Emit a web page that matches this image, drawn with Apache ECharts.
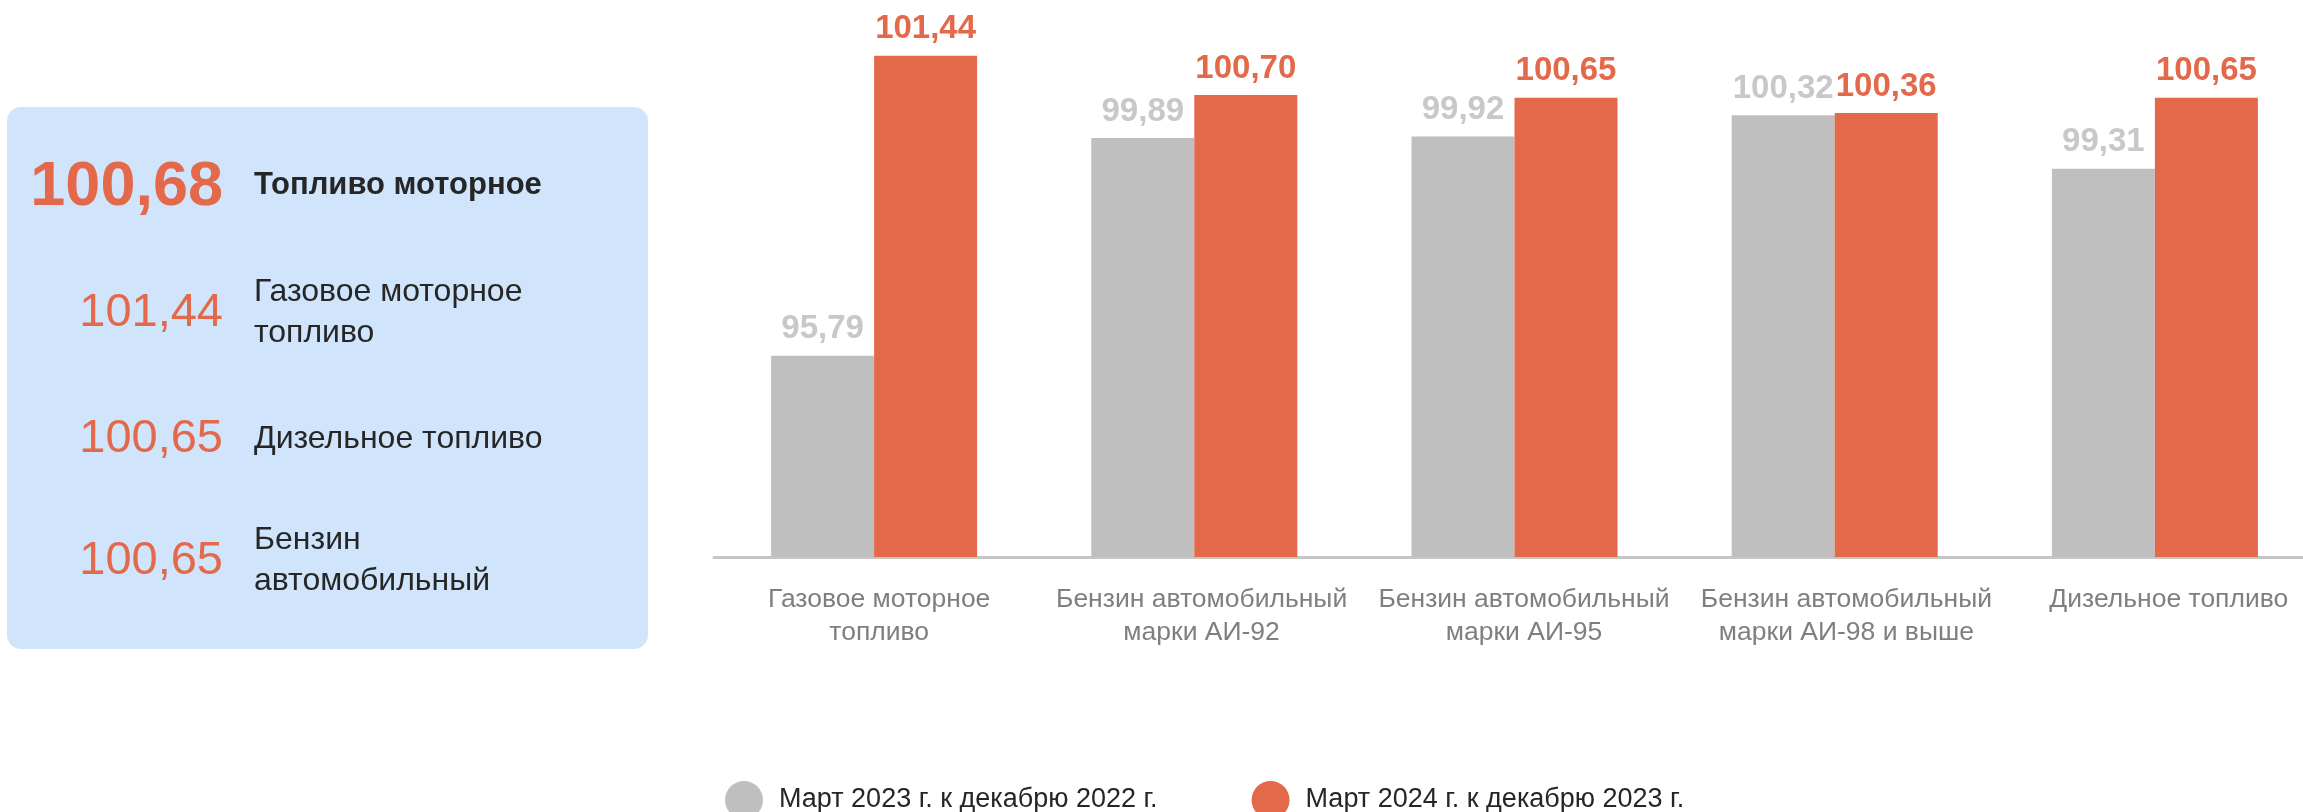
<!DOCTYPE html>
<html>
<head>
<meta charset="utf-8">
<script src="https://cdn.jsdelivr.net/npm/echarts@6/dist/echarts.min.js"></script>
<style>
  html, body { margin: 0; padding: 0; background: #fff; overflow: hidden; }
  #chart { width: 2340px; height: 812px; }
</style>
</head>
<body>
<div id="chart"></div>
<script>
const categories = [
  'Газовое моторное\nтопливо',
  'Бензин автомобильный\nмарки АИ-92',
  'Бензин автомобильный\nмарки АИ-95',
  'Бензин автомобильный\nмарки АИ-98 и выше',
  'Дизельное топливо'
];
const seriesNames = ['Март 2023 г. к декабрю 2022 г.', 'Март 2024 г. к декабрю 2023 г.'];
const values2023 = [95.79, 99.89, 99.92, 100.32, 99.31];
const values2024 = [101.44, 100.70, 100.65, 100.36, 100.65];

// summary panel on the left
const totalValue = 100.68;
const totalLabel = 'Топливо моторное';
const summaryValues = [101.44, 100.65, 100.65];
const summaryLabels = ['Газовое моторное\nтопливо', 'Дизельное топливо', 'Бензин\nавтомобильный'];

const ORANGE = '#E3694A';
const GRAY = '#BFBFBF';
const FONT = '"Liberation Sans", Arial, sans-serif';

const fmt = (v) => v.toFixed(2).replace('.', ',');

const summaryY = [313, 439, 561];
const summaryGraphics = [];
summaryValues.forEach((v, i) => {
  summaryGraphics.push({
    type: 'text',
    style: {
      text: fmt(v), x: 223, y: summaryY[i],
      font: '47px ' + FONT, fill: ORANGE,
      align: 'right', verticalAlign: 'middle'
    }
  });
  summaryGraphics.push({
    type: 'text',
    style: {
      text: summaryLabels[i], x: 254, y: summaryY[i],
      font: '32px ' + FONT, fill: '#262626', lineHeight: 41,
      align: 'left', verticalAlign: 'middle'
    }
  });
});

const chart = echarts.init(document.getElementById('chart'));

const barLabel = (color) => ({
  show: true,
  position: 'top',
  distance: 10,
  formatter: (p) => fmt(p.value),
  fontFamily: FONT,
  fontWeight: 'bold',
  fontSize: 33,
  color: color
});

chart.setOption({
  animation: false,
  textStyle: { fontFamily: FONT },
  grid: [
    { left: 714, width: 1601, top: 26, bottom: 255, containLabel: false },
    // category captions sit on a slightly wider band than the bars
    { left: 718, width: 1612, top: 26, bottom: 255, containLabel: false }
  ],
  legend: {
    left: 720,
    top: 776,
    icon: 'circle',
    itemWidth: 38,
    itemHeight: 38,
    itemGap: 94,
    textStyle: { fontSize: 27, color: '#262626', padding: [0, 0, 0, 11] },
    data: seriesNames
  },
  xAxis: [
    {
      type: 'category',
      gridIndex: 0,
      data: categories,
      axisLine: { lineStyle: { color: '#C6C6C6', width: 3 } },
      axisTick: { show: false },
      axisLabel: { show: false }
    },
    {
      type: 'category',
      gridIndex: 1,
      data: categories,
      axisLine: { show: false },
      axisTick: { show: false },
      axisLabel: { color: '#7F7F7F', fontSize: 26.5, lineHeight: 33, margin: 26, interval: 0 }
    }
  ],
  yAxis: [
    { type: 'value', gridIndex: 0, min: 92, max: 102, show: false },
    { type: 'value', gridIndex: 1, min: 92, max: 102, show: false }
  ],
  series: [
    {
      name: seriesNames[0],
      type: 'bar',
      data: values2023,
      barWidth: 103,
      barGap: '0%',
      itemStyle: { color: GRAY },
      label: barLabel('#C8C8C8')
    },
    {
      name: seriesNames[1],
      type: 'bar',
      data: values2024,
      barWidth: 103,
      barGap: '0%',
      itemStyle: { color: ORANGE },
      label: barLabel(ORANGE)
    }
  ],
  graphic: [
    {
      type: 'rect',
      shape: { x: 7, y: 107, width: 641, height: 542, r: 14 },
      style: { fill: '#D0E5FB' },
      z: -1
    },
    {
      type: 'text',
      style: {
        text: fmt(totalValue), x: 223, y: 188,
        font: 'bold 63px ' + FONT, fill: ORANGE,
        align: 'right', verticalAlign: 'middle'
      }
    },
    {
      type: 'text',
      style: {
        text: totalLabel, x: 254, y: 185,
        font: 'bold 31px ' + FONT, fill: '#262626',
        align: 'left', verticalAlign: 'middle'
      }
    },
    ...summaryGraphics
  ]
});
</script>
</body>
</html>
